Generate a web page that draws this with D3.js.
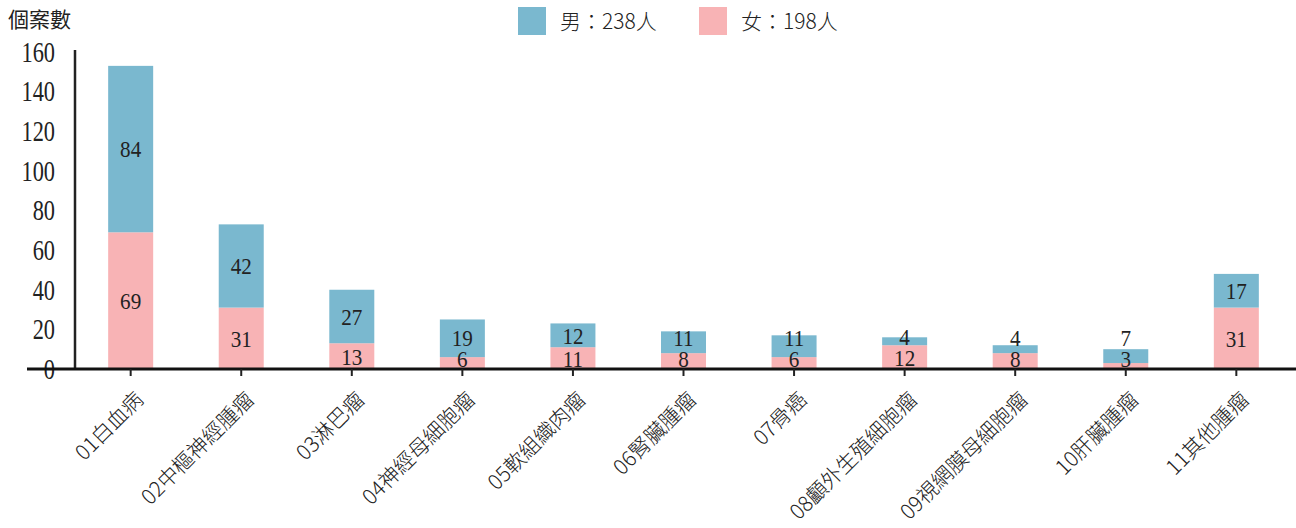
<!DOCTYPE html>
<html>
<head>
<meta charset="utf-8">
<script src="https://cdn.jsdelivr.net/npm/d3@7"></script>
<style>
  body { margin: 0; background: #fff; }
  svg { display: block; }
</style>
</head>
<body>
<svg id="chart"></svg>
<script>
// data
var categories = ["01白血病", "02中樞神經腫瘤", "03淋巴瘤", "04神經母細胞瘤", "05軟組織肉瘤",
    "06腎臟腫瘤", "07骨癌", "08顱外生殖細胞瘤", "09視網膜母細胞瘤", "10肝臟腫瘤", "11其他腫瘤"];
var female = [69, 31, 13, 6, 11, 8, 6, 12, 8, 3, 31];
var male = [84, 42, 27, 19, 12, 11, 11, 4, 4, 7, 17];
var yTicks = [0, 20, 40, 60, 80, 100, 120, 140, 160];
var legendLabels = ["男：238人", "女：198人"];

var width = 1296, height = 528;
var blue = "#7ab8cf", pink = "#f8b3b5";
var serif = "'Liberation Serif', 'DejaVu Serif', serif";
var sans = "'Noto Sans CJK TC', 'Noto Sans', sans-serif";

var svg = d3.select("#chart").attr("width", width).attr("height", height);

var x = d3.scaleBand().domain(categories).range([75, 1292]).paddingInner(0.593).paddingOuter(0.3);
var y = d3.scaleLinear().domain([0, 160]).range([369, 52]);

var rows = categories.map(function (c, i) {
    var d = { cat: c, f: female[i], m: male[i] };
    // keep the two labels from running into each other or the axis
    d.fy = Math.min(y(d.f / 2), y(0) - 10);
    d.my = Math.min(y(d.f + d.m / 2), d.fy - 21);
    return d;
});

// female bars (bottom)
svg.selectAll("rect.f").data(rows).enter().append("rect")
    .attr("class", "f")
    .attr("x", function (d) { return x(d.cat); })
    .attr("width", x.bandwidth())
    .attr("y", function (d) { return y(d.f); })
    .attr("height", function (d) { return y(0) - y(d.f); })
    .attr("fill", pink);

// male bars stacked on top
svg.selectAll("rect.m").data(rows).enter().append("rect")
    .attr("class", "m")
    .attr("x", function (d) { return x(d.cat); })
    .attr("width", x.bandwidth())
    .attr("y", function (d) { return y(d.f + d.m); })
    .attr("height", function (d) { return y(d.f) - y(d.f + d.m); })
    .attr("fill", blue);

// value labels (narrow serif, like the original)
function valueLabels(cls, posKey, valKey) {
    svg.selectAll("text." + cls).data(rows).enter().append("text")
        .attr("class", cls)
        .attr("transform", function (d) {
            return "translate(" + (x(d.cat) + x.bandwidth() / 2) + "," + d[posKey] + ") scale(0.88,1)";
        })
        .attr("dy", "0.35em")
        .attr("text-anchor", "middle")
        .style("font-family", serif).style("font-size", "24px").style("fill", "#222")
        .text(function (d) { return d[valKey]; });
}
valueLabels("fl", "fy", "f");
valueLabels("ml", "my", "m");

// y axis
svg.append("line")
    .attr("x1", 75).attr("x2", 75).attr("y1", 50).attr("y2", y(0))
    .attr("stroke", "#222").attr("stroke-width", 2.5);
svg.selectAll("text.ytick").data(yTicks).enter().append("text")
    .attr("class", "ytick")
    .attr("transform", function (d) { return "translate(55," + y(d) + ") scale(0.77,1)"; })
    .attr("dy", "0.34em")
    .attr("text-anchor", "end")
    .style("font-family", serif).style("font-size", "29px").style("fill", "#222")
    .text(function (d) { return d; });

// x axis
var xAxis = svg.append("g").attr("transform", "translate(0,369)")
    .call(d3.axisBottom(x).tickSize(7).tickSizeOuter(0));
xAxis.select(".domain").attr("stroke", "#111").attr("stroke-width", 3).attr("d", "M27,0H1296");
xAxis.selectAll(".tick line").attr("stroke", "#222").attr("stroke-width", 2);
xAxis.selectAll("text")
    .style("font-family", sans).style("font-size", "21px").style("font-weight", 300).style("fill", "#222")
    .attr("text-anchor", "end")
    .attr("y", 0).attr("dy", 0)
    .attr("transform", "translate(14,32) rotate(-45)");

// y title
svg.append("text").attr("x", 8).attr("y", 27)
    .style("font-family", sans).style("font-size", "21px").style("fill", "#222")
    .text("個案數");

// legend
var legendColors = [blue, pink];
var legendX = [518, 699];
var lg = svg.selectAll("g.legend").data(legendLabels).enter().append("g")
    .attr("transform", function (d, i) { return "translate(" + legendX[i] + ",7)"; });
lg.append("rect").attr("width", 28).attr("height", 28)
    .attr("fill", function (d, i) { return legendColors[i]; });
lg.append("text").attr("x", 42).attr("y", 22)
    .style("font-family", sans).style("font-size", "21px").style("font-weight", 300).style("fill", "#222")
    .text(function (d) { return d; });
</script>
</body>
</html>
